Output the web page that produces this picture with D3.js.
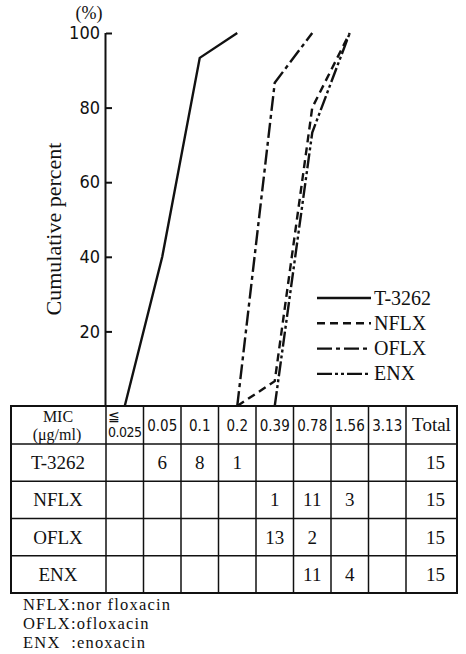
<!DOCTYPE html>
<html><head><meta charset="utf-8">
<script src="https://cdn.jsdelivr.net/npm/d3@7"></script>
<style>
body{margin:0;background:#fff;}
svg text{fill:#111;}
</style>
</head><body>
<svg id="c" width="466" height="654"></svg>
<script>
const micLabels = ["≦0.025","0.05","0.1","0.2","0.39","0.78","1.56","3.13"];
const drugs = ["T-3262","NFLX","OFLX","ENX"];
const countsT3262 = [0,6,8,1,0,0,0,0];
const countsNFLX  = [0,0,0,0,1,11,3,0];
const countsOFLX  = [0,0,0,0,13,2,0,0];
const countsENX   = [0,0,0,0,0,11,4,0];
const totals = [15,15,15,15];
const yTicks = [20,40,60,80,100];
const footnotes = ["NFLX:nor floxacin","OFLX:ofloxacin","ENX\u00a0\u00a0:enoxacin"];
const dashes = [null,"8,5","15,4,4,4","15,3,3,3,3,3"];

const allCounts = [countsT3262,countsNFLX,countsOFLX,countsENX];
const svg = d3.select("#c");
const serif = "'Liberation Serif','Times New Roman',serif";
const cond = "'DejaVu Sans Condensed','Liberation Sans Narrow','DejaVu Sans',sans-serif";

const tableLeft = 11, tableRight = 457, tableTop = 406, headerBottom = 444, tableBottom = 593;
const x = d3.scaleBand().domain(micLabels).range([106,406]);
const y = d3.scaleLinear().domain([0,100]).range([tableTop,33]);

// y axis
const yAxis = d3.axisLeft(y).tickValues(yTicks).tickSize(-6).tickPadding(4);
const gy = svg.append("g").attr("transform",`translate(${x.range()[0]},0)`).call(yAxis);
gy.select(".domain").attr("d",`M-0.5,${y(100)}V${tableTop}`).attr("stroke","#111").attr("stroke-width",2);
gy.selectAll(".tick line").attr("stroke","#111").attr("stroke-width",2).attr("x1",0).attr("x2",6);
gy.selectAll(".tick text").attr("font-family",cond).attr("font-size",18).attr("fill","#111").attr("x",-6);

svg.append("text").attr("x",89).attr("y",19).attr("text-anchor","middle")
  .attr("font-family",serif).attr("font-size",18).text("(%)");
svg.append("text").attr("transform","translate(61,229) rotate(-90)").attr("text-anchor","middle")
  .attr("font-family",serif).attr("font-size",22).text("Cumulative percent");

// cumulative lines
const line = d3.line().x(d=>x(d.mic)+x.bandwidth()/2).y(d=>y(d.v));
allCounts.forEach((counts,i)=>{
  const total = d3.sum(counts);
  let cum = 0; const pts = [];
  const first = counts.findIndex(c=>c>0);
  counts.forEach((c,j)=>{
    cum += c;
    if (j >= first-1 && (pts.length===0 || pts[pts.length-1].v<100)) pts.push({mic:micLabels[j], v:cum/total*100});
  });
  svg.append("path").attr("d",line(pts)).attr("fill","none").attr("stroke","#111")
    .attr("stroke-width",2.4).attr("stroke-dasharray",dashes[i]);
});

// legend
drugs.forEach((d,i)=>{
  const ly = 298 + i*25.3;
  svg.append("line").attr("x1",317).attr("x2",371).attr("y1",ly).attr("y2",ly)
    .attr("stroke","#111").attr("stroke-width",2.4).attr("stroke-dasharray",dashes[i]);
  svg.append("text").attr("x",374).attr("y",ly+6.5).attr("font-family",serif).attr("font-size",20).text(d);
});

// table
const rowY = d3.scaleBand().domain(drugs).range([headerBottom,tableBottom]);
const tg = svg.append("g");
tg.append("rect").attr("x",tableLeft).attr("y",tableTop).attr("width",tableRight-tableLeft).attr("height",tableBottom-tableTop)
  .attr("fill","none").attr("stroke","#111").attr("stroke-width",2);
const vlines = micLabels.map(m=>x(m)).concat([x.range()[1]]);
vlines.forEach(vx=>tg.append("line").attr("x1",vx).attr("x2",vx).attr("y1",tableTop).attr("y2",tableBottom).attr("stroke","#111").attr("stroke-width",1.5));
[headerBottom].concat(drugs.slice(1).map(d=>rowY(d))).forEach(hy=>
  tg.append("line").attr("x1",tableLeft).attr("x2",tableRight).attr("y1",hy).attr("y2",hy).attr("stroke","#111").attr("stroke-width",1.5));

// header
tg.append("text").attr("x",58).attr("y",421.5).attr("text-anchor","middle").attr("font-family",serif).attr("font-size",16).text("MIC");
tg.append("text").attr("x",57).attr("y",440).attr("text-anchor","middle").attr("font-family",serif).attr("font-size",16).text("(μg/ml)");
micLabels.forEach((m,i)=>{
  const cx = x(m)+x.bandwidth()/2;
  if (m.startsWith("≦")) {
    tg.append("text").attr("x",x(m)+2).attr("y",421).attr("font-family",serif).attr("font-size",14).text("≦");
    tg.append("text").attr("x",x(m)+2).attr("y",437).attr("font-family",cond).attr("font-size",14).attr("textLength",34).text(m.slice(1));
  } else {
    tg.append("text").attr("x",cx).attr("y",431).attr("text-anchor","middle").attr("font-family",cond).attr("font-size",15).text(m);
  }
});
tg.append("text").attr("x",(406+tableRight)/2).attr("y",431).attr("text-anchor","middle").attr("font-family",serif).attr("font-size",19).text("Total");

// rows
drugs.forEach((d,i)=>{
  const cy = rowY(d)+rowY.bandwidth()/2+6.5;
  tg.append("text").attr("x",58).attr("y",cy).attr("text-anchor","middle").attr("font-family",serif).attr("font-size",19).text(d);
  allCounts[i].forEach((c,j)=>{
    if (c>0) tg.append("text").attr("x",x(micLabels[j])+x.bandwidth()/2).attr("y",cy).attr("text-anchor","middle")
      .attr("font-family",serif).attr("font-size",19).text(c);
  });
  tg.append("text").attr("x",(406+tableRight)/2+4).attr("y",cy).attr("text-anchor","middle").attr("font-family",serif).attr("font-size",19).text(totals[i]);
});

// footnotes
footnotes.forEach((f,i)=>{
  svg.append("text").attr("x",23).attr("y",610+i*19).attr("font-family",serif).attr("font-size",16.5)
    .attr("letter-spacing",1.2).text(f);
});
</script>
</body></html>
